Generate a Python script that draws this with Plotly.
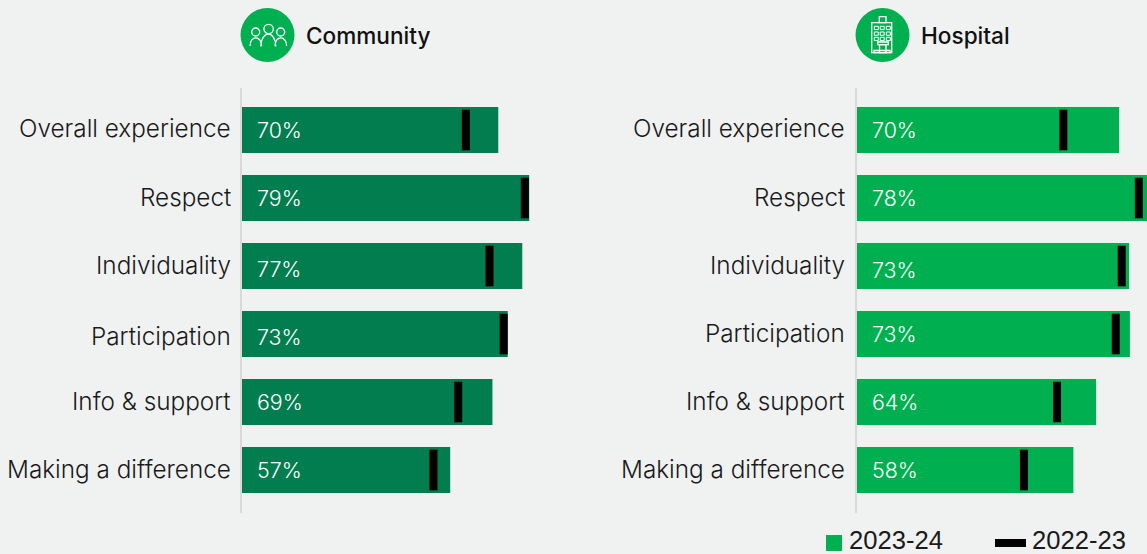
import plotly.graph_objects as go

W, H = 1147, 554
BG = "#f0f2f2"
categories = ["Overall experience", "Respect", "Individuality", "Participation", "Info & support", "Making a difference"]
community_2324 = [70.4, 78.9, 77.0, 73.0, 68.8, 57.2]
community_2223 = [61.5, 77.7, 68.0, 71.9, 59.4, 52.6]
community_labels = ["70%", "79%", "77%", "73%", "69%", "57%"]
hospital_2324 = [70.5, 78.0, 73.2, 73.4, 64.3, 58.2]
hospital_2223 = [55.5, 75.8, 71.2, 69.6, 53.8, 44.9]
hospital_labels = ["70%", "78%", "73%", "73%", "64%", "58%"]
DARK, LIGHT = "#017d4f", "#00b050"
FONT = "Inter"
INK = "#1a1a1a"

def px(x): return x / W
def py(y): return 1 - y / H
def xy(x, y): return f"{px(x):.5f},{py(y):.5f}"

def circ(cx, cy, r, **kw):
    return dict(type="circle", xref="paper", yref="paper", x0=px(cx - r), x1=px(cx + r), y0=py(cy + r), y1=py(cy - r), layer="above", **kw)

def rect(x0, y0, x1, y1, **kw):
    return dict(type="rect", xref="paper", yref="paper", x0=px(x0), x1=px(x1), y0=py(y1), y1=py(y0), layer="above", **kw)

WL = dict(color="white", width=1.3)

def shoulders(cx, apex, half, base):
    ctrl = base - (base - apex) / 0.75
    return dict(type="path", xref="paper", yref="paper", layer="above", line=WL,
                path=f"M{xy(cx - half, base)} C{xy(cx - half, ctrl)} {xy(cx + half, ctrl)} {xy(cx + half, base)}")

shapes = [
    circ(267.5, 35, 27, fillcolor=LIGHT, line=dict(width=0)),
    circ(882.5, 35, 27, fillcolor=LIGHT, line=dict(width=0)),
    circ(255.7, 32, 4, line=WL), circ(268.6, 29, 4.7, line=WL), circ(280.7, 32, 4, line=WL),
    shoulders(255.8, 37.8, 5.8, 46), shoulders(268.3, 34.2, 7.5, 46.5), shoulders(280.8, 37.8, 5.8, 46),
    rect(871.7, 22.7, 891.7, 52.7, line=WL), rect(879.3, 16.7, 886, 22.7, line=WL),
    rect(877.7, 42, 888.3, 44.7, line=WL), rect(879.5, 44.7, 886, 52.7, line=WL),
    rect(874, 50.5, 890, 52.7, line=WL),
]
for wy in (26.3, 32, 37.3):
    for wx in (874.3, 880.2, 886.3):
        shapes.append(rect(wx, wy, wx + 4, wy + 3.3, line=dict(color="white", width=1)))
# legend swatches
shapes.append(rect(826, 535, 842, 551, fillcolor=LIGHT, line=dict(width=0)))
shapes.append(rect(995, 539, 1026, 547, fillcolor="black", line=dict(width=0)))

fig = go.Figure()
panels = [
    ("x", "y", community_2324, community_2223, community_labels, DARK, -9, [-2, -1, -1, 2, -1, -1], [0, 0, 3, 3, 0, 0]),
    ("x2", "y2", hospital_2324, hospital_2223, hospital_labels, LIGHT, -10, [-2, -1, -1, -1, -1, -1], [0, 0, 4, 0, 0, 0]),
]
annotations = []
for xa, ya, cur, prev, labs, col, cat_shift, cat_nudge, val_nudge in panels:
    fig.add_trace(go.Bar(x=cur, y=categories, orientation="h", marker=dict(color=col, line=dict(width=0)),
                         width=0.676, xaxis=xa, yaxis=ya, showlegend=False, name="2023-24"))
    fig.add_trace(go.Scatter(x=prev, y=categories, mode="markers", xaxis=xa, yaxis=ya, showlegend=False, name="2022-23",
                             marker=dict(symbol="line-ns", size=29, color="black", line=dict(width=8, color="black"))))
    for c, l, n1, n2 in zip(categories, labs, cat_nudge, val_nudge):
        annotations.append(dict(x=0, y=c, xref=xa, yref=ya, text=l, showarrow=False, xanchor="left", xshift=13, yshift=-n2,
                                font=dict(family=FONT, size=21.4, color="white", weight=300)))
        annotations.append(dict(x=0, y=c, xref=xa, yref=ya, text=c, showarrow=False, xanchor="right", xshift=cat_shift, yshift=-n1,
                                font=dict(family=FONT, size=24.3, color=INK, weight=300)))

def title(x, t):
    return dict(x=px(x), y=py(35), xref="paper", yref="paper", text=t, showarrow=False, xanchor="left", yanchor="middle",
                font=dict(family=FONT, size=22.6, color="#111111", weight=500))
annotations += [title(304, "Community"), title(919, "Hospital")]

def legtext(x, t):
    return dict(x=px(x), y=py(539.5), xref="paper", yref="paper", text=t, showarrow=False, xanchor="left", yanchor="middle",
                font=dict(family="Liberation Sans", size=25.6, color=INK))
annotations += [legtext(847, "2023-24"), legtext(1030, "2022-23")]

yax = dict(domain=[1 - 513 / H, 1 - 88 / H], range=[5.632, -0.618], type="category", categoryorder="array",
           categoryarray=categories, showgrid=False, zeroline=False, showline=True, linecolor="#d9d9d9", linewidth=2,
           ticks="", showticklabels=False)
xax = dict(showgrid=False, zeroline=False, showticklabels=False, ticks="", showline=False)
fig.update_layout(
    width=W, height=H, autosize=False, margin=dict(l=0, r=0, t=0, b=0), barmode="overlay",
    paper_bgcolor=BG, plot_bgcolor=BG, shapes=shapes, annotations=annotations, showlegend=False,
    xaxis=dict(domain=[px(242), px(606)], range=[0, 100], anchor="y", **xax),
    yaxis=dict(anchor="x", **yax),
    xaxis2=dict(domain=[px(857), 1], range=[0, 78], anchor="y2", **xax),
    yaxis2=dict(anchor="x2", **yax),
)
fig.write_html("out.html", config=dict(displayModeBar=False), post_script="document.body.style.margin='0';")
